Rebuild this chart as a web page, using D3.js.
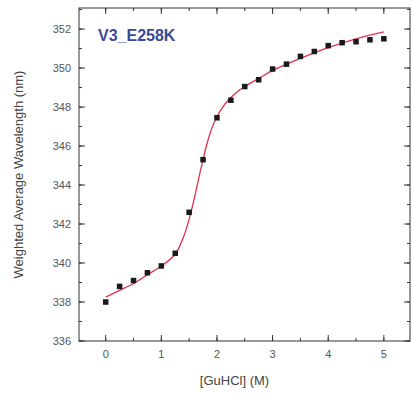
<!DOCTYPE html>
<html>
<head>
<meta charset="utf-8">
<script src="https://cdn.jsdelivr.net/npm/d3@7"></script>
<style>
  body { margin: 0; background: #fff; }
  svg { font-family: "Liberation Sans", Arial, sans-serif; }
</style>
</head>
<body>
<svg id="chart" width="412" height="399"></svg>
<script>
// measured points
var conc = [0, 0.25, 0.5, 0.75, 1.0, 1.25, 1.5, 1.75, 2.0, 2.25, 2.5, 2.75, 3.0, 3.25, 3.5, 3.75, 4.0, 4.25, 4.5, 4.75, 5.0];
var wavelength = [338.0, 338.8, 339.1, 339.5, 339.85, 340.5, 342.6, 345.3, 347.45, 348.35, 349.05, 349.4, 349.95, 350.2, 350.6, 350.85, 351.15, 351.3, 351.35, 351.45, 351.5];

// fitted curve
var fitConc = [0, 0.25, 0.5, 0.75, 1.0, 1.25, 1.4, 1.5, 1.6, 1.7, 1.75, 1.8, 1.9, 2.0, 2.1, 2.2, 2.35, 2.5, 2.75, 3.0, 3.5, 4.0, 4.5, 5.0];
var fitWave = [338.25, 338.6, 338.95, 339.4, 339.85, 340.45, 341.35, 342.25, 343.4, 344.7, 345.3, 345.9, 346.85, 347.5, 347.98, 348.35, 348.75, 349.05, 349.47, 349.88, 350.5, 351.05, 351.5, 351.85];

var xTicks = [0, 1, 2, 3, 4, 5];
var yTicks = [336, 338, 340, 342, 344, 346, 348, 350, 352];

var svg = d3.select('#chart');
var plotLeft = 79, plotRight = 410, plotTop = 8, plotBottom = 341;

var x = d3.scaleLinear().domain([-0.48, 5.47]).range([plotLeft, plotRight]);
var y = d3.scaleLinear().domain([336, 353.08]).range([plotBottom, plotTop]);

var axisColor = '#333';
var labelColor = '#555';

// frame
svg.append('rect')
    .attr('x', plotLeft).attr('y', plotTop)
    .attr('width', plotRight - plotLeft).attr('height', plotBottom - plotTop)
    .attr('fill', 'none').attr('stroke', axisColor).attr('stroke-width', 1);

var xMinor = d3.range(0, 5.01, 0.5);
var yMinor = d3.range(336, 353.01, 1);

function xTickMarks(vals, len, g) {
    g.selectAll(null).data(vals).enter().append('line')
        .attr('x1', d => x(d)).attr('x2', d => x(d))
        .attr('y1', plotBottom).attr('y2', plotBottom - len)
        .attr('stroke', axisColor);
    g.selectAll(null).data(vals).enter().append('line')
        .attr('x1', d => x(d)).attr('x2', d => x(d))
        .attr('y1', plotTop).attr('y2', plotTop + len)
        .attr('stroke', axisColor);
}
function yTickMarks(vals, len, g) {
    g.selectAll(null).data(vals).enter().append('line')
        .attr('y1', d => y(d)).attr('y2', d => y(d))
        .attr('x1', plotLeft).attr('x2', plotLeft + len)
        .attr('stroke', axisColor);
    g.selectAll(null).data(vals).enter().append('line')
        .attr('y1', d => y(d)).attr('y2', d => y(d))
        .attr('x1', plotRight).attr('x2', plotRight - len)
        .attr('stroke', axisColor);
}

var ticks = svg.append('g');
xTickMarks(xMinor, 3, ticks);
xTickMarks(xTicks, 6, ticks);
yTickMarks(yMinor, 3, ticks);
yTickMarks(yTicks, 6, ticks);

// tick labels
svg.append('g').selectAll('text').data(xTicks).enter().append('text')
    .attr('x', d => x(d)).attr('y', plotBottom + 17)
    .attr('text-anchor', 'middle')
    .attr('font-size', 11).attr('fill', labelColor)
    .text(d => d);

svg.append('g').selectAll('text').data(yTicks).enter().append('text')
    .attr('x', plotLeft - 8).attr('y', d => y(d) + 4)
    .attr('text-anchor', 'end')
    .attr('font-size', 11).attr('fill', labelColor)
    .text(d => d);

// axis titles
svg.append('text')
    .attr('x', (plotLeft + plotRight) / 2 - 10).attr('y', 385)
    .attr('text-anchor', 'middle')
    .attr('font-size', 13).attr('fill', '#444')
    .text('[GuHCl] (M)');

svg.append('text')
    .attr('transform', 'translate(23,' + ((plotTop + plotBottom) / 2) + ') rotate(-90)')
    .attr('text-anchor', 'middle')
    .attr('font-size', 13).attr('fill', '#444')
    .text('Weighted Average Wavelength (nm)');

// fit line
var line = d3.line()
    .x(d => x(d[0]))
    .y(d => y(d[1]))
    .curve(d3.curveCatmullRom.alpha(0.5));

svg.append('path')
    .datum(d3.zip(fitConc, fitWave))
    .attr('d', line)
    .attr('fill', 'none')
    .attr('stroke', '#e2314e')
    .attr('stroke-width', 1.3);

// data points
svg.append('g').selectAll('rect').data(d3.zip(conc, wavelength)).enter().append('rect')
    .attr('x', d => x(d[0]) - 2.75)
    .attr('y', d => y(d[1]) - 2.75)
    .attr('width', 5.5).attr('height', 5.5)
    .attr('fill', '#1a1a1a');

// sample label
svg.append('text')
    .attr('x', 98).attr('y', 41)
    .attr('font-size', 16).attr('font-weight', 'bold')
    .attr('fill', '#3b4a97')
    .text('V3_E258K');
</script>
</body>
</html>
